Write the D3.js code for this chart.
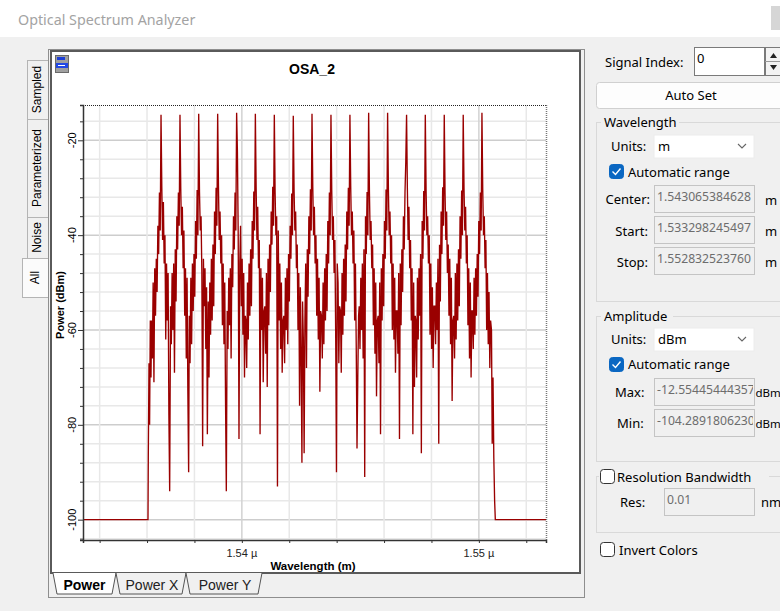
<!DOCTYPE html>
<html>
<head>
<meta charset="utf-8">
<script src="https://d3js.org/d3.v7.min.js"></script>
<style>
  body { margin: 0; background: #f0f0f0; }
  svg { display: block; }
</style>
</head>
<body>
<div id="osa"></div>
<script>
// Axis ranges, as shown in the settings panel
const wlStart = 1.5332982245497;
const wlStop = 1.5528325237600;
const powMax = -12.55445444357;
const powMin = -104.2891806230;

// Tick labels
const xTickLabels = [1.54, 1.55];
const yTickLabels = [-100, -80, -60, -40, -20];

// Carrier wavelength of each channel (um)
const channelCenters = [1.53659, 1.53739, 1.53818, 1.53898, 1.53978, 1.54057, 1.54137, 1.54217, 1.54296,
                        1.54376, 1.54456, 1.54535, 1.54615, 1.54695, 1.54774, 1.54854, 1.54934, 1.55013];
const sampleStep = 0.0000332; // um between samples inside one channel, index 12 = carrier

// Power samples (dBm) for each channel
const channelTraces = [
  [-58, -66, -50, -71, -47, -57, -45, -52, -38, -44, -31, -39, -14.6, -29.8, -41, -33, -46, -40, -62, -46, -58, -48, -78, -94],
  [-55, -63, -48, -60, -46, -69, -43, -54, -36, -43, -31, -38, -14.6, -30.2, -40, -34, -47, -39, -57, -47, -66, -49, -73, -90],
  [-57, -67, -49, -63, -46, -56, -44, -53, -37, -45, -30.5, -40, -14.4, -31, -39, -36, -48, -84.5, -45, -55, -47, -64, -51, -82],
  [-54, -70, -50, -61, -45, -58, -42, -55, -35, -44, -30, -38, -14.4, -29.6, -41, -35, -46, -40, -59, -46, -63, -50, -75, -94],
  [-56, -64, -49, -59, -47, -66, -44, -51, -36, -43, -31, -39, -14.2, -22.4, -40, -83, -46, -38, -55, -45, -61, -48, -70, -57],
  [-58, -68, -50, -62, -46, -57, -43, -55, -37, -45, -30.8, -39, -14.4, -30, -41, -34, -47, -41, -82, -47, -60, -49, -71, -56],
  [-55, -65, -48, -72, -45, -59, -42, -52, -35, -42, -29.8, -38, -14.6, -31, -40, -36, -93, -39, -58, -46, -64, -50, -69, -58],
  [-57, -67, -49, -60, -47, -63, -44, -54, -38, -45, -31.2, -40, -14.8, -30.4, -39, -35, -47, -42, -60, -48, -76, -51, -66, -88],
  [-54, -62, -86, -58, -46, -68, -43, -53, -36, -44, -30.3, -39, -14.4, -29.9, -40, -34, -46, -40, -57, -45, -62, -49, -73, -56],
  [-57, -66, -50, -63, -47, -58, -44, -56, -37, -46, -31, -40, -14.6, -30.6, -41, -36, -48, -41, -61, -90, -46, -50, -67, -55],
  [-56, -69, -48, -61, -45, -57, -42, -54, -35, -43, -30, -38, -14.6, -29.7, -40, -35, -46, -39, -58, -46, -63, -85, -70, -57],
  [-55, -64, -49, -60, -46, -66, -43, -91, -36, -44, -30.9, -40, -14.2, -31, -41, -37, -47, -42, -59, -47, -65, -50, -74, -58],
  [-57, -67, -50, -82, -47, -58, -44, -55, -37, -45, -30.4, -39, -14.2, -30.2, -40, -35, -46, -40, -60, -46, -62, -49, -69, -56],
  [-56, -65, -48, -83, -46, -59, -43, -52, -36, -43, -31, -24.5, -14.6, -30, -41, -34, -47, -41, -58, -47, -82, -50, -72, -57],
  [-58, -70, -49, -62, -47, -57, -44, -86, -37, -45, -30.7, -39, -14.6, -30.5, -40, -36, -46, -40, -61, -46, -64, -51, -68, -55],
  [-55, -63, -50, -60, -45, -84, -42, -54, -35, -44, -29.9, -38, -14.6, -31.1, -41, -35, -48, -42, -57, -45, -63, -49, -75, -58],
  [-57, -66, -48, -62, -46, -58, -43, -55, -36, -45, -30.6, -40, -14.6, -30, -39, -34, -46, -40, -59, -47, -66, -50, -70, -56],
  [-56, -64, -49, -61, -47, -57, -44, -53, -37, -44, -31, -39, -14.2, -30.3, -40, -36, -47, -41, -60, -48, -63, -52, -68, -58]
];

// Noise floor and band edges
const leftEdgeWl = [1.5332982, 1.53604, 1.536053, 1.536083, 1.536108, 1.536138, 1.536167];
const leftEdgePow = [-100, -100, -87, -67, -80, -58, -70];
const rightEdgeWl = [1.550533, 1.550563, 1.550597, 1.550631, 1.550665, 1.550694, 1.5528325];
const rightEdgePow = [-60, -84, -70, -87, -96, -100, -100];

// Build the trace
const spectrum = [];
leftEdgeWl.forEach((w, i) => spectrum.push([w, leftEdgePow[i]]));
channelCenters.forEach((c, ch) => {
  channelTraces[ch].forEach((p, i) => spectrum.push([c + (i - 12) * sampleStep, p]));
});
rightEdgeWl.forEach((w, i) => spectrum.push([w, rightEdgePow[i]]));

const W = 780, H = 611;
const uiFont = "'Noto Sans', sans-serif";
const chartFont = "'Liberation Sans', Arial, sans-serif";

const svg = d3.select("#osa")
  .append("svg")
    .attr("width", W)
    .attr("height", H)
    .style("font-family", uiFont);

// Window background and caption
svg.append("rect").attr("width", W).attr("height", H).attr("fill", "#f0f0f0");
svg.append("rect").attr("width", W).attr("height", 37).attr("fill", "#ffffff");
svg.append("text")
    .attr("x", 18).attr("y", 25)
    .attr("font-size", 14.3)
    .attr("fill", "#a3a3a3")
    .text("Optical Spectrum Analyzer");
svg.append("rect").attr("x", 771).attr("y", 6).attr("width", 9).attr("height", 24).attr("fill", "#d6d6d6");

// Vertical tabs on the left
const sideTabs = [
  { label: "Sampled", y0: 60, y1: 119 },
  { label: "Parameterized", y0: 119, y1: 217 },
  { label: "Noise", y0: 217, y1: 258 },
  { label: "All", y0: 258, y1: 297, active: true }
];
sideTabs.forEach(t => {
  const x0 = t.active ? 22 : 27;
  svg.append("rect")
      .attr("x", x0 + 0.5).attr("y", t.y0 + 0.5)
      .attr("width", 50 - x0).attr("height", t.y1 - t.y0)
      .attr("fill", t.active ? "#fbfbfb" : "#f0f0f0")
      .attr("stroke", "#b4b4b4");
  svg.append("text")
      .attr("transform", `translate(${t.active ? 39 : 41},${(t.y0 + t.y1) / 2}) rotate(-90)`)
      .attr("text-anchor", "middle")
      .attr("font-family", chartFont)
      .attr("font-size", 12)
      .text(t.label);
});

// Chart panel frame
svg.append("rect")
    .attr("x", 48.5).attr("y", 49.5).attr("width", 536).attr("height", 548)
    .attr("fill", "#f0f0f0").attr("stroke", "#8e8e8e");
svg.append("rect")
    .attr("x", 51).attr("y", 51).attr("width", 529).attr("height", 522)
    .attr("fill", "#ffffff").attr("stroke", "#5a5a5a").attr("stroke-width", 2);

// Chart icon
svg.append("rect").attr("x", 55.5).attr("y", 55.5).attr("width", 13).attr("height", 17).attr("fill", "#a0a0a0").attr("stroke", "#6a6a6a");
svg.append("rect").attr("x", 57).attr("y", 57).attr("width", 8).attr("height", 3).attr("fill", "#1d3fd6");
svg.append("rect").attr("x", 56).attr("y", 63).attr("width", 12).attr("height", 5).attr("fill", "#2248e6");
svg.append("rect").attr("x", 58).attr("y", 65).attr("width", 7).attr("height", 1).attr("fill", "#ffffff");

// Title
svg.append("text")
    .attr("x", 312).attr("y", 74)
    .attr("text-anchor", "middle")
    .attr("font-family", chartFont)
    .attr("font-size", 14)
    .attr("font-weight", "bold")
    .text("OSA_2");

// Scales
const x = d3.scaleLinear().domain([wlStart, wlStop]).range([83, 546]);
const y = d3.scaleLinear().domain([powMin, powMax]).range([540, 105]);

const yGrid = d3.range(-104, -12, 4);
const xGrid = d3.range(1534, 1553, 2).map(d => d / 1000);
const isMajorY = d => d % 20 === 0;
const isMajorX = d => Math.abs(d * 100 - Math.round(d * 100)) < 1e-7;

// Gridlines
const grid = svg.append("g");
grid.selectAll("line.gy")
  .data(yGrid)
  .join("line")
    .attr("x1", 83).attr("x2", 546)
    .attr("y1", d => y(d)).attr("y2", d => y(d))
    .attr("stroke", d => isMajorY(d) ? "#cdcdcd" : "#e8e8e8")
    .attr("stroke-width", 1.5);
grid.selectAll("line.gx")
  .data(xGrid)
  .join("line")
    .attr("y1", 105).attr("y2", 540)
    .attr("x1", d => x(d)).attr("x2", d => x(d))
    .attr("stroke", d => isMajorX(d) ? "#d2d2d2" : "#e8e8e8")
    .attr("stroke-width", 1.5);

// Dotted top and right borders
svg.append("line")
    .attr("x1", 83).attr("x2", 546).attr("y1", 105.5).attr("y2", 105.5)
    .attr("stroke", "#222").attr("stroke-dasharray", "1,1");
svg.append("line")
    .attr("x1", 546.5).attr("x2", 546.5).attr("y1", 105).attr("y2", 540)
    .attr("stroke", "#777").attr("stroke-dasharray", "1,1").attr("stroke-width", 1.5);

// Spectrum trace
svg.append("clipPath").attr("id", "plotClip")
  .append("rect").attr("x", 83).attr("y", 105).attr("width", 463).attr("height", 435);

const line = d3.line()
    .x(d => x(d[0]))
    .y(d => y(d[1]));

svg.append("path")
    .datum(spectrum)
    .attr("clip-path", "url(#plotClip)")
    .attr("fill", "none")
    .attr("stroke", "#9a0000")
    .attr("stroke-width", 1.35)
    .attr("d", line);

// Y axis
const yAxis = svg.append("g")
    .attr("transform", "translate(83,0)")
    .call(d3.axisLeft(y).tickValues(yGrid).tickSize(3).tickFormat(""));
yAxis.select(".domain").attr("stroke", "#333").attr("stroke-width", 1.5);
yAxis.selectAll(".tick line")
    .attr("stroke", "#333")
    .attr("x2", d => isMajorY(d) ? -5 : -3);

svg.append("g").selectAll("text")
  .data(yTickLabels)
  .join("text")
    .attr("transform", d => `translate(76,${y(d)}) rotate(-90)`)
    .attr("text-anchor", "middle")
    .attr("font-family", chartFont)
    .attr("font-size", 11)
    .text(d => d);

svg.append("text")
    .attr("transform", `translate(64,305) rotate(-90)`)
    .attr("text-anchor", "middle")
    .attr("font-family", chartFont)
    .attr("font-size", 11)
    .attr("font-weight", "bold")
    .text("Power (dBm)");

// X axis
const xAxis = svg.append("g")
    .attr("transform", "translate(0,540)")
    .call(d3.axisBottom(x).tickValues(xGrid).tickSize(3).tickFormat(""));
xAxis.select(".domain").attr("stroke", "#333").attr("stroke-width", 1.5);
xAxis.selectAll(".tick line").attr("stroke", "#333");

svg.append("g").selectAll("text")
  .data(xTickLabels)
  .join("text")
    .attr("x", d => x(d))
    .attr("y", 557)
    .attr("text-anchor", "middle")
    .attr("font-family", chartFont)
    .attr("font-size", 11)
    .attr("fill", "#222")
    .text(d => `${d} \u00b5`);

svg.append("text")
    .attr("x", 313).attr("y", 570)
    .attr("text-anchor", "middle")
    .attr("font-family", chartFont)
    .attr("font-size", 11.5)
    .attr("font-weight", "bold")
    .text("Wavelength (m)");

// Bottom tabs
const bottomTabs = [
  { label: "Power", a: 53, b: 116, bold: true },
  { label: "Power X", a: 116, b: 186 },
  { label: "Power Y", a: 186, b: 262 }
];
bottomTabs.forEach(t => {
  svg.append("path")
      .attr("d", `M${t.a},573 L${t.a + 4},594 L${t.b - 4},594 L${t.b},573`)
      .attr("fill", t.bold ? "#ffffff" : "#f0f0f0")
      .attr("stroke", "#555");
  svg.append("text")
      .attr("x", (t.a + t.b) / 2 + (t.bold ? 0 : 1)).attr("y", 590)
      .attr("text-anchor", "middle")
      .attr("font-family", chartFont)
      .attr("font-size", 14)
      .attr("font-weight", t.bold ? "bold" : "normal")
      .attr("fill", t.bold ? "#000" : "#222")
      .text(t.label);
});

// Right-hand settings panel
const panel = svg.append("g").attr("font-size", 13).attr("fill", "#000");

function label(x0, y0, txt, anchor, size) {
  panel.append("text").attr("x", x0).attr("y", y0)
      .attr("text-anchor", anchor || "start")
      .attr("font-size", size || 13)
      .text(txt);
}
function field(x0, y0, w, h, txt, enabled) {
  panel.append("rect")
      .attr("x", x0 + 0.5).attr("y", y0 + 0.5).attr("width", w).attr("height", h)
      .attr("fill", enabled ? "#ffffff" : "#f0f0f0")
      .attr("stroke", enabled ? "#7a7a7a" : "#c4c4c4");
  const cp = "clip" + Math.round(x0) + "_" + Math.round(y0);
  svg.append("clipPath").attr("id", cp)
    .append("rect").attr("x", x0 + 1).attr("y", y0 + 1).attr("width", w - 2).attr("height", h - 1);
  panel.append("text")
      .attr("x", x0 + 3).attr("y", y0 + 16)
      .attr("clip-path", `url(#${cp})`)
      .attr("font-size", enabled ? 13 : 12.2)
      .attr("fill", enabled ? "#000" : "#6d6d6d")
      .text(txt);
}
function dropdown(y0, txt) {
  panel.append("rect").attr("x", 654).attr("y", y0).attr("width", 100).attr("height", 23)
      .attr("fill", "#ffffff").attr("stroke", "#ececec");
  panel.append("text").attr("x", 658).attr("y", y0 + 16).text(txt);
  panel.append("path")
      .attr("d", `M738,${y0 + 9} L742,${y0 + 13} L746,${y0 + 9}`)
      .attr("fill", "none").attr("stroke", "#666").attr("stroke-width", 1.1);
}
function checkbox(x0, y0, checked) {
  panel.append("rect")
      .attr("x", x0 + 0.5).attr("y", y0 + 0.5).attr("width", 14).attr("height", 14).attr("rx", 3)
      .attr("fill", checked ? "#0a67c2" : "#ffffff")
      .attr("stroke", checked ? "#0a67c2" : "#333");
  if (checked) {
    panel.append("path")
        .attr("d", `M${x0 + 3.5},${y0 + 7.5} L${x0 + 6.5},${y0 + 10.5} L${x0 + 11.5},${y0 + 4.5}`)
        .attr("fill", "none").attr("stroke", "#fff").attr("stroke-width", 1.4);
  }
}
function groupBox(y0, y1, title, titleW) {
  panel.append("rect")
      .attr("x", 596.5).attr("y", y0 + 0.5).attr("width", 200).attr("height", y1 - y0)
      .attr("fill", "none").attr("stroke", "#d9d9d9");
  if (title) {
    panel.append("rect").attr("x", 601).attr("y", y0 - 6).attr("width", titleW).attr("height", 12).attr("fill", "#f0f0f0");
    label(604, y0 + 5, title);
  }
}

// Signal index
label(605, 67, "Signal Index:");
field(694, 47, 70, 28, "0", true);
panel.append("rect").attr("x", 765.5).attr("y", 47.5).attr("width", 16).attr("height", 28).attr("fill", "#f3f3f3").attr("stroke", "#7a7a7a");
panel.append("line").attr("x1", 765).attr("x2", 780).attr("y1", 61.5).attr("y2", 61.5).attr("stroke", "#9a9a9a");
panel.append("path").attr("d", "M770,58 L773.5,53 L777,58 Z").attr("fill", "#222");
panel.append("path").attr("d", "M770,65 L773.5,70 L777,65 Z").attr("fill", "#222");

// Auto Set button
panel.append("rect").attr("x", 596.5).attr("y", 82.5).attr("width", 200).attr("height", 26).attr("rx", 3)
    .attr("fill", "#fdfdfd").attr("stroke", "#d0d0d0");
label(691, 100, "Auto Set", "middle");

// Wavelength group
groupBox(122, 301, "Wavelength", 78);
label(611, 151, "Units:");
dropdown(135, "m");
checkbox(609, 164, true);
label(628, 177, "Automatic range");
label(650, 204, "Center:", "end");
field(654, 185, 100, 27, "1.543065384628", false);
label(765, 205, "m");
label(648, 236, "Start:", "end");
field(654, 216, 100, 27, "1.533298245497", false);
label(765, 236, "m");
label(648, 267, "Stop:", "end");
field(654, 247, 100, 27, "1.552832523760", false);
label(765, 267, "m");

// Amplitude group
groupBox(316, 461, "Amplitude", 72);
label(611, 344, "Units:");
dropdown(328, "dBm");
checkbox(609, 357, true);
label(628, 369, "Automatic range");
label(615, 397, "Max:");
field(654, 378, 100, 27, "-12.55445444357", false);
label(755.5, 397, "dBm", "start", 11.5);
label(617, 428, "Min:");
field(654, 409, 100, 27, "-104.2891806230", false);
label(755.5, 428, "dBm", "start", 11.5);

// Resolution bandwidth group
groupBox(476, 532, null, 0);
panel.append("rect").attr("x", 599).attr("y", 468).attr("width", 170).attr("height", 16).attr("fill", "#f0f0f0");
checkbox(600, 469, false);
label(617, 482, "Resolution Bandwidth");
label(620, 507, "Res:");
field(664, 488, 90, 27, "0.01", false);
label(761, 507, "nm");

// Invert colors
checkbox(600, 542, false);
label(619, 555, "Invert Colors");
</script>
</body>
</html>
